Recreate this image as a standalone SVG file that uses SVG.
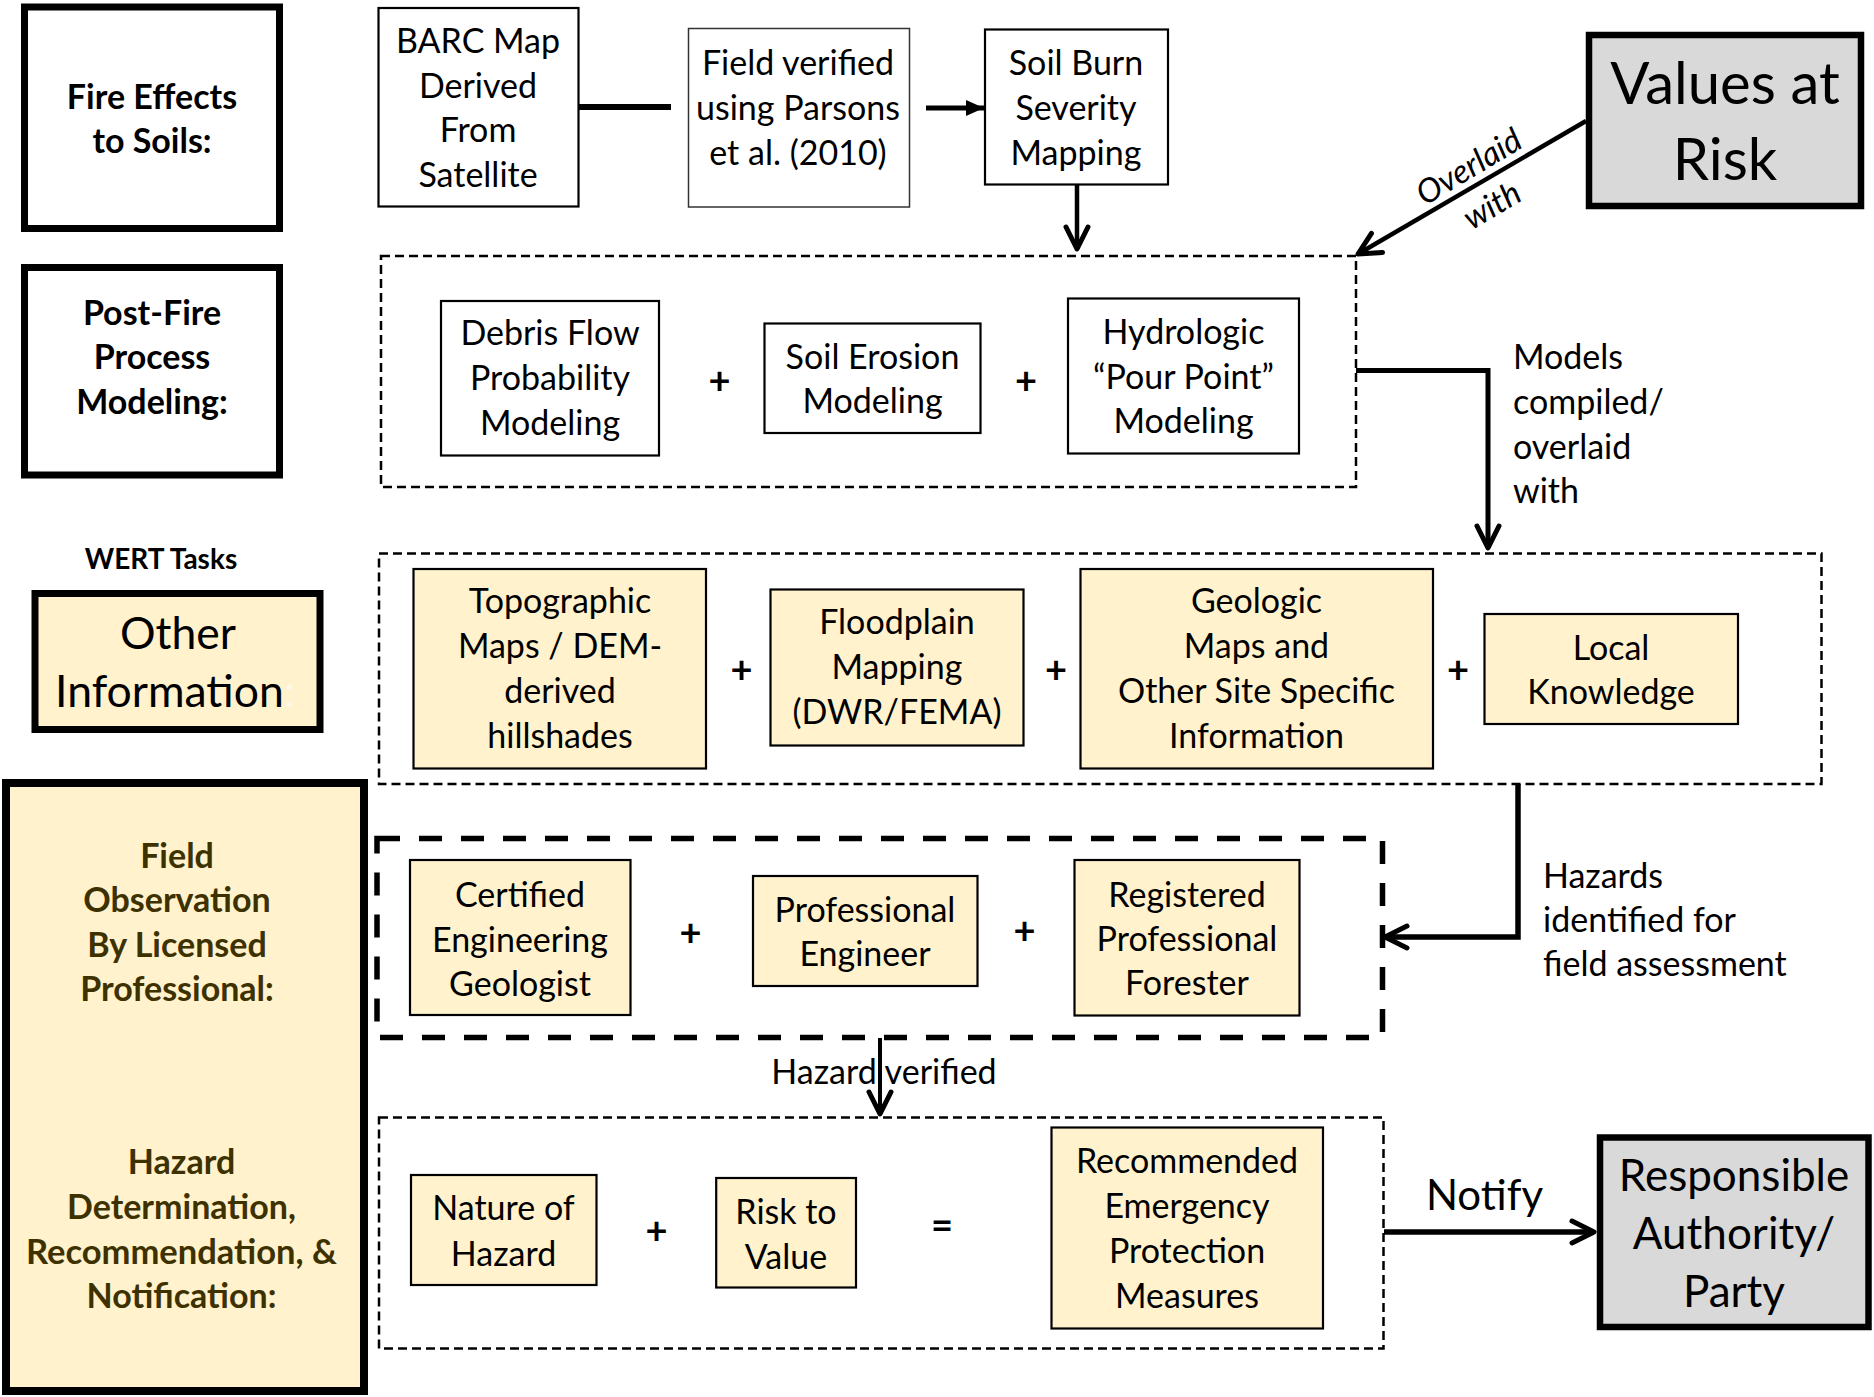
<svg xmlns="http://www.w3.org/2000/svg" width="1874" height="1397" viewBox="0 0 1874 1397">
<style>
.t{font-family:Lato,'Open Sans','Liberation Sans',sans-serif;font-size:34px;text-anchor:middle;fill:#000}
.b{font-weight:bold}
.lt{text-anchor:start}
.plus{font-family:Lato,'Liberation Sans',sans-serif;font-weight:bold;font-size:38px;text-anchor:middle;fill:#000}
.box{fill:#fff;stroke:#000;stroke-width:2.2}
.thin{fill:#fff;stroke:#333;stroke-width:1.5}
.ybox{fill:#fff2cc;stroke:#000;stroke-width:2.2}
.lbl{fill:#fff;stroke:#000;stroke-width:7}
.grey{fill:#d9d9d9;stroke:#000;stroke-width:6.5}
.dash{fill:none;stroke:#000;stroke-width:2.5;stroke-dasharray:9 5}
.dash2{fill:none;stroke:#000;stroke-width:5.5;stroke-dasharray:23 19}
.conn{fill:none;stroke:#000;stroke-width:5}
.olive{fill:#3d3100}
</style>
<defs>
<marker id="open" markerUnits="userSpaceOnUse" viewBox="-30 -16 36 32" refX="0" refY="0" markerWidth="36" markerHeight="32" orient="auto" overflow="visible">
<path d="M-22,-11 L0,0 L-22,11" fill="none" stroke="#000" stroke-width="5" stroke-linecap="round" stroke-linejoin="round"/>
</marker>
<marker id="solid" markerUnits="userSpaceOnUse" viewBox="-20 -10 22 20" refX="0" refY="0" markerWidth="22" markerHeight="20" orient="auto" overflow="visible">
<path d="M-18,-8 L0,0 L-18,8 Z" fill="#000"/>
</marker>
</defs>
<rect width="1874" height="1397" fill="#fff"/>

<!-- row labels -->
<g id="fire-effects">
<rect class="lbl" x="24.5" y="7" width="255" height="221.5"/>
<text class="t b" x="152" y="108.5">Fire Effects</text>
<text class="t b" x="152" y="152.5">to Soils:</text>
</g>
<g id="post-fire">
<rect class="lbl" x="24.5" y="267.5" width="255" height="207.5"/>
<text class="t b" x="152" y="324.5">Post-Fire</text>
<text class="t b" x="152" y="369">Process</text>
<text class="t b" x="152" y="413.5">Modeling:</text>
</g>
<g id="wert-tasks">
<text class="t b" x="161" y="568.5" style="font-size:28px">WERT Tasks</text>
</g>
<g id="other-info">
<rect class="lbl" x="35" y="593.5" width="285" height="136" style="fill:#fff2cc"/>
<text class="t" x="178" y="648.5" style="font-size:44.5px">Other</text>
<text class="t" x="175" y="707" style="font-size:44.5px">Information<tspan fill="#fff8e6">:</tspan></text>
</g>
<g id="field-observation">
<rect class="lbl" x="6" y="783" width="358" height="608" style="fill:#fff2cc;stroke-width:8"/>
<text class="t b olive" x="177" y="867.5">Field</text>
<text class="t b olive" x="177" y="912">Observation</text>
<text class="t b olive" x="177" y="956.5">By Licensed</text>
<text class="t b olive" x="177" y="1001">Professional:</text>
<text class="t b olive" x="181.5" y="1174">Hazard</text>
<text class="t b olive" x="181.5" y="1219">Determination,</text>
<text class="t b olive" x="181.5" y="1263.5" style="font-size:34.5px">Recommendation, &amp;</text>
<text class="t b olive" x="181.5" y="1308">Notification:</text>
</g>

<!-- row 1 -->
<g id="barc">
<rect class="box" x="378.5" y="8" width="200" height="198.5"/>
<text class="t" x="478" y="53">BARC Map</text>
<text class="t" x="478" y="97.5">Derived</text>
<text class="t" x="478" y="142">From</text>
<text class="t" x="478" y="186.5">Satellite</text>
</g>
<g id="field-verified">
<rect class="thin" x="688.5" y="28.5" width="221" height="178.5"/>
<text class="t" x="798" y="75">Field verified</text>
<text class="t" x="798" y="119.5">using Parsons</text>
<text class="t" x="798" y="164.5">et al. (2010)</text>
</g>
<g id="soil-burn">
<rect class="box" x="985" y="29.5" width="183" height="155"/>
<text class="t" x="1076" y="74.5">Soil Burn</text>
<text class="t" x="1076" y="119.5">Severity</text>
<text class="t" x="1076" y="164.5">Mapping</text>
</g>
<g id="values-at-risk">
<rect class="grey" x="1589" y="35" width="272" height="171"/>
<text class="t" x="1725" y="103.5" style="font-size:58px">Values at</text>
<text class="t" x="1725" y="179.5" style="font-size:58px">Risk</text>
</g>

<!-- row 2 -->
<g id="modeling-group">
<rect class="dash" x="381" y="256" width="975" height="231"/>
</g>
<g id="debris-flow">
<rect class="box" x="441" y="301" width="218" height="154.5"/>
<text class="t" x="550" y="344.5">Debris Flow</text>
<text class="t" x="550" y="389.5">Probability</text>
<text class="t" x="550" y="434.5">Modeling</text>
</g>
<text class="plus" x="719.5" y="394">+</text>
<g id="soil-erosion">
<rect class="box" x="764.5" y="323.5" width="216" height="109.5"/>
<text class="t" x="872.5" y="368.5">Soil Erosion</text>
<text class="t" x="872.5" y="413">Modeling</text>
</g>
<text class="plus" x="1026" y="394">+</text>
<g id="hydrologic">
<rect class="box" x="1068" y="298.5" width="231" height="155"/>
<text class="t" x="1183.5" y="343.5">Hydrologic</text>
<text class="t" x="1183.5" y="388.5">“Pour Point”</text>
<text class="t" x="1183.5" y="433">Modeling</text>
</g>

<!-- row 3 -->
<g id="other-info-group">
<rect class="dash" x="379" y="553.5" width="1442.5" height="230.5"/>
</g>
<g id="topographic">
<rect class="ybox" x="413.5" y="569" width="292.5" height="199.5"/>
<text class="t" x="560" y="612.5">Topographic</text>
<text class="t" x="560" y="657.5">Maps / DEM-</text>
<text class="t" x="560" y="702.5">derived</text>
<text class="t" x="560" y="747.5">hillshades</text>
</g>
<text class="plus" x="741.5" y="683">+</text>
<g id="floodplain">
<rect class="ybox" x="770.5" y="589.5" width="253" height="156"/>
<text class="t" x="897" y="634">Floodplain</text>
<text class="t" x="897" y="679">Mapping</text>
<text class="t" x="897" y="724">(DWR/FEMA)</text>
</g>
<text class="plus" x="1056" y="683">+</text>
<g id="geologic">
<rect class="ybox" x="1080.5" y="569" width="352.5" height="199.5"/>
<text class="t" x="1256.5" y="612.5">Geologic</text>
<text class="t" x="1256.5" y="657.5">Maps and</text>
<text class="t" x="1256.5" y="702.5">Other Site Specific</text>
<text class="t" x="1256.5" y="747.5">Information</text>
</g>
<text class="plus" x="1458" y="683">+</text>
<g id="local-knowledge">
<rect class="ybox" x="1484.5" y="614" width="253.5" height="110"/>
<text class="t" x="1611" y="659.5">Local</text>
<text class="t" x="1611" y="704">Knowledge</text>
</g>

<!-- row 4 -->
<g id="field-group">
<rect class="dash2" x="377" y="838.5" width="1005.5" height="199"/>
</g>
<g id="certified">
<rect class="ybox" x="410" y="860" width="220.5" height="155"/>
<text class="t" x="520" y="907">Certified</text>
<text class="t" x="520" y="951.5">Engineering</text>
<text class="t" x="520" y="996">Geologist</text>
</g>
<text class="plus" x="690.5" y="946">+</text>
<g id="prof-engineer">
<rect class="ybox" x="753" y="876" width="224.5" height="110"/>
<text class="t" x="865" y="922">Professional</text>
<text class="t" x="865" y="966">Engineer</text>
</g>
<text class="plus" x="1024.5" y="943.5">+</text>
<g id="forester">
<rect class="ybox" x="1074.5" y="860" width="225" height="155.5"/>
<text class="t" x="1187" y="907">Registered</text>
<text class="t" x="1187" y="951">Professional</text>
<text class="t" x="1187" y="995">Forester</text>
</g>

<!-- row 5 -->
<g id="determination-group">
<rect class="dash" x="379" y="1117.5" width="1004.5" height="231"/>
</g>
<g id="nature-of-hazard">
<rect class="ybox" x="411" y="1175" width="185.5" height="110"/>
<text class="t" x="503.5" y="1220">Nature of</text>
<text class="t" x="503.5" y="1265.5">Hazard</text>
</g>
<text class="plus" x="656.5" y="1244">+</text>
<g id="risk-to-value">
<rect class="ybox" x="716.2" y="1178" width="139.8" height="109.5"/>
<text class="t" x="786" y="1223.5">Risk to</text>
<text class="t" x="786" y="1268.5">Value</text>
</g>
<text class="plus" x="942" y="1239">=</text>
<g id="recommended">
<rect class="ybox" x="1051.5" y="1127.5" width="271.5" height="201"/>
<text class="t" x="1187" y="1173">Recommended</text>
<text class="t" x="1187" y="1218">Emergency</text>
<text class="t" x="1187" y="1263">Protection</text>
<text class="t" x="1187" y="1308">Measures</text>
</g>
<g id="responsible">
<rect class="grey" x="1600" y="1137.5" width="268.5" height="189.5"/>
<text class="t" x="1734" y="1191" style="font-size:44px">Responsible</text>
<text class="t" x="1734" y="1249" style="font-size:44px">Authority/</text>
<text class="t" x="1734" y="1307" style="font-size:44px">Party</text>
</g>

<!-- connectors -->
<g id="connectors">
<line class="conn" x1="578.5" y1="107" x2="671" y2="107" style="stroke-width:6"/>
<line class="conn" x1="926" y1="108" x2="984" y2="108" style="stroke-width:5" marker-end="url(#solid)"/>
<line class="conn" x1="1077" y1="184.5" x2="1077" y2="249" style="stroke-width:4.5" marker-end="url(#open)"/>
<line class="conn" x1="1586" y1="121" x2="1358" y2="254" style="stroke-width:4.5" marker-end="url(#open)"/>
<polyline class="conn" points="1356,370.5 1488,370.5 1488,548" marker-end="url(#open)"/>
<polyline class="conn" points="1518,784 1518,937 1385,937" style="stroke-width:5.5" marker-end="url(#open)"/>
<line class="conn" x1="880" y1="1038" x2="880" y2="1114" style="stroke-width:4" marker-end="url(#open)"/>
<line class="conn" x1="1384" y1="1232" x2="1594" y2="1232" style="stroke-width:5.5" marker-end="url(#open)"/>
<text class="t" transform="translate(1469,167) rotate(-31)" style="font-style:italic;font-size:33px"><tspan x="0" y="11">Overlaid</tspan><tspan x="0" y="56">with</tspan></text>
<text class="t lt" x="1513" y="368.5">Models</text>
<text class="t lt" x="1513" y="413.5">compiled/</text>
<text class="t lt" x="1513" y="458.5">overlaid</text>
<text class="t lt" x="1513" y="503">with</text>
<text class="t lt" x="1543" y="887.5">Hazards</text>
<text class="t lt" x="1543" y="932">identified for</text>
<text class="t lt" x="1543" y="976">field assessment</text>
<text class="t" x="884" y="1084">Hazard verified</text>
<text class="t" x="1484.5" y="1209.5" style="font-size:42px">Notify</text>
</g>
</svg>
